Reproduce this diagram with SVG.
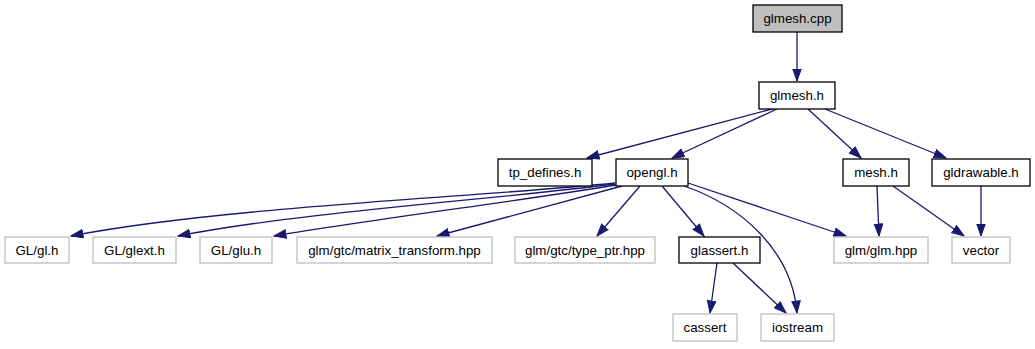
<svg xmlns="http://www.w3.org/2000/svg" width="1035" height="349" viewBox="0 0 1035 349">
  <defs>
    <marker id="arrow" markerUnits="userSpaceOnUse" markerWidth="14" markerHeight="10" refX="12.5" refY="4.75" orient="auto">
      <path d="M0.5,0.5 L12.5,4.75 L0.5,9 z" fill="#191970" stroke="#191970" stroke-width="1"/>
    </marker>
    <style>
      .box { fill: #ffffff; stroke: #000000; stroke-width: 1.3; }
      .ext { fill: #ffffff; stroke: #bfbfbf; stroke-width: 1.3; }
      .root { fill: #bfbfbf; stroke: #000000; stroke-width: 1.3; }
      text { font-family: "Liberation Sans", Arial, sans-serif; font-size: 13.33px; fill: #000000; text-anchor: middle; }
      .edge path { fill: none; stroke: #191970; stroke-width: 1.3; marker-end: url(#arrow); }
    </style>
  </defs>
  <rect width="1035" height="349" fill="#ffffff"/>

  <g id="connectors" class="edge">
    <path d="M797,32 L797,81"/>
    <path d="M772,109 L587,158"/>
    <path d="M777,109 L672,158"/>
    <path d="M808,109 L861,158"/>
    <path d="M825,109 L946,158"/>
    <path d="M615,183 C480,197 220,207 71,236"/>
    <path d="M615,184 C500,199 300,212 178,236"/>
    <path d="M616,185 C520,201 380,218 274,236"/>
    <path d="M622,186 L437,236"/>
    <path d="M640,186 L597,236"/>
    <path d="M662,186 L704,236"/>
    <path d="M684,186 C740,205 792,250 797,313"/>
    <path d="M688,183 L846,236"/>
    <path d="M877,186 L879,236"/>
    <path d="M893,186 L964,236"/>
    <path d="M981,186 L981,236"/>
    <path d="M717,263 L710,313"/>
    <path d="M733,263 L786,313"/>
  </g>

  <g id="node-glmesh-cpp"><rect class="root" x="753" y="5" width="89" height="27"/><text x="797.5" y="23">glmesh.cpp</text></g>
  <g id="node-glmesh-h"><rect class="box" x="759" y="82" width="76" height="27"/><text x="797" y="100">glmesh.h</text></g>
  <g id="node-tp-defines"><rect class="box" x="498" y="159" width="94" height="27"/><text x="545" y="177">tp_defines.h</text></g>
  <g id="node-opengl"><rect class="box" x="616" y="159" width="72" height="27"/><text x="652" y="177">opengl.h</text></g>
  <g id="node-mesh"><rect class="box" x="843" y="159" width="66" height="27"/><text x="876" y="177">mesh.h</text></g>
  <g id="node-gldrawable"><rect class="box" x="932" y="159" width="98" height="27"/><text x="981" y="177">gldrawable.h</text></g>

  <g id="node-gl"><rect class="ext" x="5" y="237" width="64" height="26"/><text x="37" y="255">GL/gl.h</text></g>
  <g id="node-glext"><rect class="ext" x="93" y="237" width="83" height="26"/><text x="134.5" y="255">GL/glext.h</text></g>
  <g id="node-glu"><rect class="ext" x="200" y="237" width="72" height="26"/><text x="236" y="255">GL/glu.h</text></g>
  <g id="node-matrix-transform"><rect class="ext" x="297" y="237" width="195" height="26"/><text x="394.5" y="255">glm/gtc/matrix_transform.hpp</text></g>
  <g id="node-type-ptr"><rect class="ext" x="515" y="237" width="140" height="26"/><text x="585" y="255">glm/gtc/type_ptr.hpp</text></g>
  <g id="node-glassert"><rect class="box" x="679" y="237" width="81" height="26"/><text x="719.5" y="255">glassert.h</text></g>
  <g id="node-glm"><rect class="ext" x="834" y="237" width="94" height="26"/><text x="881" y="255">glm/glm.hpp</text></g>
  <g id="node-vector"><rect class="ext" x="952" y="237" width="58" height="26"/><text x="981" y="255">vector</text></g>

  <g id="node-cassert"><rect class="ext" x="673" y="314" width="64" height="27"/><text x="705" y="332">cassert</text></g>
  <g id="node-iostream"><rect class="ext" x="761" y="314" width="73" height="27"/><text x="797.5" y="332">iostream</text></g>
</svg>
